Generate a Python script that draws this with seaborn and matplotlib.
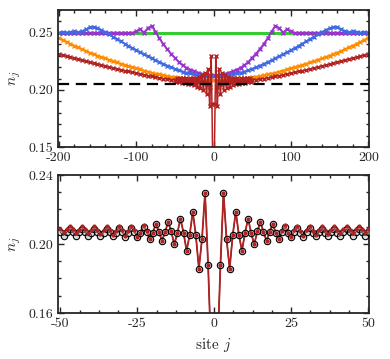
import numpy as np
import pandas as pd
import matplotlib
matplotlib.use("Agg")
import matplotlib.pyplot as plt
import seaborn as sns
from matplotlib.ticker import AutoMinorLocator, FormatStrFormatter

# ---- top panel data (sites every 5) ----
sites = list(range(-200, 201, 5))

green_sites = [-200, 200]
green = [0.25, 0.25]

orange = [0.2455, 0.2438, 0.2421, 0.2404, 0.2388, 0.2372, 0.2356, 0.2341, 0.2327, 0.2313,
          0.2300, 0.2288, 0.2276, 0.2264, 0.2252, 0.2241, 0.2230, 0.2219, 0.2209, 0.2199,
          0.2189, 0.2179, 0.2169, 0.2160, 0.2151, 0.2143, 0.2136, 0.2129, 0.2122, 0.2116,
          0.2111, 0.2106, 0.2102, 0.2098, 0.2095, 0.2092, 0.2089, 0.2087, 0.2086, 0.2085,
          0.2085,
          0.2085, 0.2086, 0.2087, 0.2089, 0.2092, 0.2095, 0.2098, 0.2102, 0.2106, 0.2111,
          0.2116, 0.2122, 0.2129, 0.2136, 0.2143, 0.2151, 0.2160, 0.2169, 0.2179, 0.2189,
          0.2199, 0.2209, 0.2219, 0.2230, 0.2241, 0.2252, 0.2264, 0.2276, 0.2288, 0.2300,
          0.2313, 0.2327, 0.2341, 0.2356, 0.2372, 0.2388, 0.2404, 0.2421, 0.2438, 0.2455]

blue = [0.2502, 0.2508, 0.2502, 0.2505, 0.2512, 0.2506, 0.2512, 0.2530, 0.2548, 0.2550,
        0.2540, 0.2524, 0.2506, 0.2486, 0.2466, 0.2446, 0.2426, 0.2406, 0.2386, 0.2367,
        0.2348, 0.2330, 0.2312, 0.2294, 0.2277, 0.2260, 0.2244, 0.2228, 0.2213, 0.2199,
        0.2185, 0.2172, 0.2161, 0.2152, 0.2144, 0.2137, 0.2131, 0.2125, 0.2121, 0.2119,
        0.2118,
        0.2119, 0.2121, 0.2125, 0.2131, 0.2137, 0.2144, 0.2152, 0.2161, 0.2172, 0.2185,
        0.2199, 0.2213, 0.2228, 0.2244, 0.2260, 0.2277, 0.2294, 0.2312, 0.2330, 0.2348,
        0.2367, 0.2386, 0.2406, 0.2426, 0.2446, 0.2466, 0.2486, 0.2506, 0.2524, 0.2540,
        0.2550, 0.2548, 0.2530, 0.2512, 0.2506, 0.2512, 0.2505, 0.2502, 0.2508, 0.2502]

purple = [0.2500, 0.2500, 0.2500, 0.2500, 0.2500, 0.2500, 0.2500, 0.2500, 0.2500, 0.2500,
          0.2500, 0.2500, 0.2500, 0.2500, 0.2500, 0.2500, 0.2500, 0.2500, 0.2500, 0.2500,
          0.2512, 0.2532, 0.2502, 0.2540, 0.2562, 0.2510, 0.2452, 0.2402, 0.2358, 0.2318,
          0.2282, 0.2245, 0.2216, 0.2195, 0.2178, 0.2164, 0.2152, 0.2142, 0.2135, 0.2130,
          0.2128,
          0.2130, 0.2135, 0.2142, 0.2152, 0.2164, 0.2178, 0.2195, 0.2216, 0.2245, 0.2282,
          0.2318, 0.2358, 0.2402, 0.2452, 0.2510, 0.2562, 0.2540, 0.2502, 0.2532, 0.2512,
          0.2500, 0.2500, 0.2500, 0.2500, 0.2500, 0.2500, 0.2500, 0.2500, 0.2500, 0.2500,
          0.2500, 0.2500, 0.2500, 0.2500, 0.2500, 0.2500, 0.2500, 0.2500, 0.2500, 0.2500]

red_outer_sites = list(range(-200, -54, 5)) + list(range(55, 201, 5))
red_outer = [0.2313, 0.2304, 0.2295, 0.2286, 0.2277, 0.2268, 0.2259, 0.2250, 0.2241, 0.2232,
             0.2224, 0.2216, 0.2208, 0.2200, 0.2192, 0.2184, 0.2177, 0.2169, 0.2162, 0.2155,
             0.2148, 0.2140, 0.2133, 0.2126, 0.2119, 0.2112, 0.2106, 0.2100, 0.2095, 0.2090,
             0.2090, 0.2095, 0.2100, 0.2106, 0.2112, 0.2119, 0.2126, 0.2133, 0.2140, 0.2148,
             0.2155, 0.2162, 0.2169, 0.2177, 0.2184, 0.2192, 0.2200, 0.2208, 0.2216, 0.2224,
             0.2232, 0.2241, 0.2250, 0.2259, 0.2268, 0.2277, 0.2286, 0.2295, 0.2304, 0.2313]

ref_level = 0.205

# ---- bottom panel data (every site) ----
sites_zoom = list(range(-50, 51))
red_zoom = [0.2087, 0.2068, 0.2085, 0.2106, 0.2086, 0.2066, 0.2083, 0.2105, 0.2085, 0.2063,
            0.2082, 0.2104, 0.2084, 0.2060, 0.2080, 0.2104, 0.2083, 0.2055, 0.2078, 0.2104,
            0.2082, 0.2048, 0.2075, 0.2105, 0.2080, 0.2039, 0.2066, 0.2108, 0.2077, 0.2027,
            0.2066, 0.2114, 0.2072, 0.2019, 0.2068, 0.2128, 0.2074, 0.1998, 0.2062, 0.2147,
            0.2066, 0.1961, 0.2052, 0.2186, 0.2052, 0.1857, 0.2027, 0.2297, 0.1876, 0.1350,
            0.1200,
            0.1350, 0.1876, 0.2297, 0.2027, 0.1857, 0.2052, 0.2186, 0.2052, 0.1961, 0.2066,
            0.2147, 0.2062, 0.1998, 0.2074, 0.2128, 0.2068, 0.2019, 0.2072, 0.2114, 0.2066,
            0.2027, 0.2077, 0.2108, 0.2066, 0.2039, 0.2080, 0.2105, 0.2075, 0.2048, 0.2082,
            0.2104, 0.2078, 0.2055, 0.2083, 0.2104, 0.2080, 0.2060, 0.2084, 0.2104, 0.2082,
            0.2063, 0.2085, 0.2105, 0.2083, 0.2066, 0.2086, 0.2106, 0.2085, 0.2068, 0.2087]
black_zoom = [0.2068, 0.2049, 0.2067, 0.2086, 0.2068, 0.2048, 0.2067, 0.2087, 0.2068, 0.2047,
              0.2066, 0.2088, 0.2068, 0.2046, 0.2066, 0.2089, 0.2069, 0.2044, 0.2065, 0.2091,
              0.2070, 0.2042, 0.2064, 0.2094, 0.2070, 0.2038, 0.2062, 0.2100, 0.2072, 0.2027,
              0.2066, 0.2114, 0.2072, 0.2019, 0.2068, 0.2128, 0.2074, 0.1998, 0.2062, 0.2147,
              0.2066, 0.1961, 0.2052, 0.2186, 0.2052, 0.1857, 0.2027, 0.2297, 0.1876, 0.1350,
              0.1200,
              0.1350, 0.1876, 0.2297, 0.2027, 0.1857, 0.2052, 0.2186, 0.2052, 0.1961, 0.2066,
              0.2147, 0.2062, 0.1998, 0.2074, 0.2128, 0.2068, 0.2019, 0.2072, 0.2114, 0.2066,
              0.2027, 0.2072, 0.2100, 0.2062, 0.2038, 0.2070, 0.2094, 0.2064, 0.2042, 0.2070,
              0.2091, 0.2065, 0.2044, 0.2069, 0.2089, 0.2066, 0.2046, 0.2068, 0.2088, 0.2066,
              0.2047, 0.2068, 0.2087, 0.2067, 0.2048, 0.2068, 0.2086, 0.2067, 0.2049, 0.2068]

# red curve in the top panel = outer points + the per-site center
red_top = pd.DataFrame({"j": red_outer_sites + sites_zoom, "n": red_outer + red_zoom}).sort_values("j")

sns.set_style("ticks")
plt.rcParams["font.family"] = "serif"
plt.rcParams["font.serif"] = ["cmr10", "DejaVu Serif"]
plt.rcParams["mathtext.fontset"] = "cm"
plt.rcParams["axes.unicode_minus"] = False
plt.rcParams["axes.formatter.use_mathtext"] = False
plt.rcParams["font.size"] = 10

c_green = "#33cc33"
c_purple = "#9933cc"
c_blue = "#4169e1"
c_orange = "#ff8c00"
c_red = "#b22222"

fig = plt.figure(figsize=(3.9, 3.59), dpi=100)
ax1 = fig.add_axes([58 / 390, 1 - 147 / 359, 311 / 390, 137 / 359])
ax2 = fig.add_axes([58 / 390, 1 - 313 / 359, 311 / 390, 138 / 359])


def curve(ax, x, y, col, lw=1.4):
    # line with dense cross markers
    sns.lineplot(x=x, y=y, ax=ax, color=col, linewidth=lw, marker="x",
                 markersize=3.0, markeredgewidth=1.0, markeredgecolor=col)


sns.lineplot(x=green_sites, y=green, ax=ax1, color=c_green, linewidth=2.2)
curve(ax1, sites, purple, c_purple)
curve(ax1, sites, blue, c_blue)
curve(ax1, sites, orange, c_orange)
curve(ax1, red_top["j"], red_top["n"], c_red, lw=1.1)
ax1.axhline(ref_level, color="black", linestyle=(0, (5, 3)), linewidth=1.6, zorder=5)

ax1.set_xlim(-201, 201)
ax1.set_ylim(0.15, 0.27)
ax1.set_xticks([-200, -100, 0, 100, 200])
ax1.set_yticks([0.15, 0.20, 0.25])
ax1.yaxis.set_major_formatter(FormatStrFormatter("%.2f"))
ax1.xaxis.set_minor_locator(AutoMinorLocator(5))
ax1.yaxis.set_minor_locator(AutoMinorLocator(5))
ax1.set_xlabel("")
ax1.set_ylabel(r"$n_j$", fontsize=11)

# bottom: thin black reference line, red line, open circles, red dots
sns.lineplot(x=sites_zoom, y=black_zoom, ax=ax2, color="black", linewidth=0.8, zorder=1)
sns.lineplot(x=sites_zoom, y=red_zoom, ax=ax2, color=c_red, linewidth=1.3, zorder=2)
ax2.plot(sites_zoom, black_zoom, linestyle="none", marker="o", markersize=4.6,
         markerfacecolor=(0.7, 0.7, 0.7, 0.45), markeredgecolor="black",
         markeredgewidth=0.8, zorder=3)
ax2.plot(sites_zoom, red_zoom, linestyle="none", marker="o", markersize=2.0,
         color=c_red, zorder=4)

ax2.set_xlim(-50.8, 50.3)
ax2.set_ylim(0.16, 0.24)
ax2.set_xticks([-50, -25, 0, 25, 50])
ax2.set_yticks([0.16, 0.20, 0.24])
ax2.yaxis.set_major_formatter(FormatStrFormatter("%.2f"))
ax2.xaxis.set_minor_locator(AutoMinorLocator(4))
ax2.yaxis.set_minor_locator(AutoMinorLocator(4))
ax2.set_xlabel(r"site $j$", fontsize=11)
ax2.set_ylabel(r"$n_j$", fontsize=11)

for ax in (ax1, ax2):
    ax.tick_params(which="both", direction="in", top=True, right=True, width=1.0)
    ax.tick_params(which="major", length=4, labelsize=10)
    ax.tick_params(which="minor", length=2.5)
    for s in ax.spines.values():
        s.set_linewidth(1.3)

fig.savefig("out.png", dpi=100)
